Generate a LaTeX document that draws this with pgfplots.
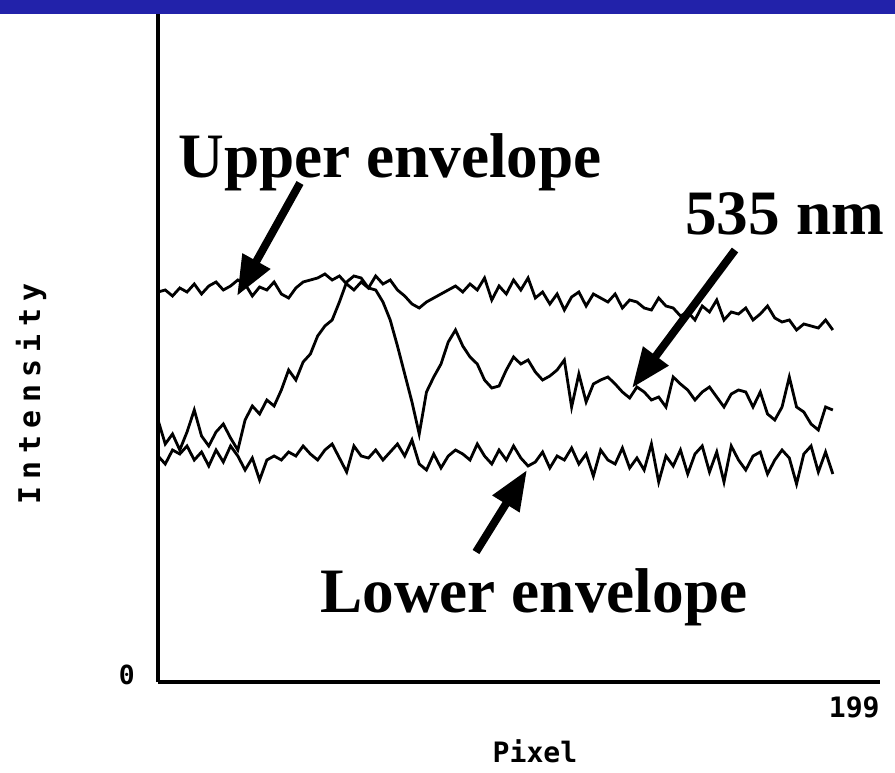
\documentclass[border=0pt]{standalone}
\usepackage{pgfplots}
\pgfplotsset{compat=1.18}
\usepackage{pgfplotstable}
\usepackage{fontspec}
\setmainfont{Liberation Serif}
\newfontfamily\monof{DejaVu Sans Mono}
\usetikzlibrary{arrows.meta}
\definecolor{barblue}{HTML}{2222AA}

% x = detector pixel, columns = intensity of the three traces
\pgfplotstableread{
x upper mid lower
0 390 262 226
2 392 238 218
4 386 248 232
6 394 232 228
8 390 250 236
10 398 272 222
12 388 246 230
14 396 236 216
16 400 250 232
18 392 258 220
20 396 244 236
22 402 232 226
24 398 262 212
26 386 276 224
28 395 268 202
30 392 282 222
32 400 276 226
34 388 292 222
36 384 312 230
38 394 302 226
40 400 320 236
42 402 328 228
44 404 346 222
46 408 356 232
48 402 362 238
50 406 380 224
52 398 400 210
54 392 406 236
56 400 404 226
58 394 394 224
60 406 392 232
62 398 380 222
64 402 362 230
66 392 336 238
68 386 308 226
70 378 280 242
72 374 248 218
74 380 290 212
76 384 305 228
78 388 318 214
80 392 340 226
82 396 352 232
84 390 336 228
86 398 325 222
88 392 318 238
90 404 302 226
92 382 294 218
94 396 296 232
96 388 312 222
98 402 325 236
100 392 318 224
102 404 322 216
104 384 310 220
106 390 302 230
108 378 306 214
110 388 312 226
112 372 322 222
114 385 275 234
116 390 308 218
118 376 280 228
120 388 298 206
122 384 302 232
124 380 305 222
126 388 298 218
128 374 290 234
130 382 284 214
132 380 295 224
134 374 290 212
136 372 282 238
138 384 285 200
140 376 275 226
142 374 305 216
144 366 298 232
146 370 292 208
148 362 282 228
150 376 290 236
152 370 295 210
154 382 285 230
156 362 275 200
158 370 288 236
160 368 292 222
162 374 290 212
164 362 275 226
166 368 290 230
168 376 268 208
170 364 262 222
172 360 275 232
174 362 305 224
176 352 275 198
178 358 270 228
180 356 258 236
182 354 252 210
184 362 275 230
186 352 272 208
}\traces

\begin{document}
\begin{tikzpicture}
\useasboundingbox (0,0) rectangle (17.9cm,15.44cm);
\fill[barblue] (0,15.16cm) rectangle (17.9cm,15.44cm);
\begin{axis}[
  at={(3.16cm,1.8cm)}, anchor=south west,
  scale only axis,
  width=14.44cm, height=13.36cm,
  xmin=0, xmax=199, ymin=0, ymax=668,
  axis x line=bottom, axis y line=left,
  axis line style={line width=2.3pt,-},
  ticks=none,
  clip=false,
]
\addplot[black, line width=1.6pt, line join=miter] table[x=x, y=upper] {\traces};
\addplot[black, line width=1.6pt, line join=miter] table[x=x, y=mid] {\traces};
\addplot[black, line width=1.6pt, line join=miter] table[x=x, y=lower] {\traces};
\end{axis}

% annotations
\node[anchor=base west, inner sep=0pt, font=\fontsize{36}{40}\selectfont\bfseries] at (3.56cm,11.88cm) {Upper envelope};
\node[anchor=base west, inner sep=0pt, font=\fontsize{36}{40}\selectfont\bfseries] at (13.7cm,10.74cm) {535 nm};
\node[anchor=base west, inner sep=0pt, font=\fontsize{36}{40}\selectfont\bfseries] at (6.4cm,3.2cm) {Lower envelope};
\draw[line width=4.5pt, -{Triangle[length=0.8cm, width=0.6cm]}] (6.0cm,11.78cm) -- (4.74cm,9.52cm);
\draw[line width=4.5pt, -{Triangle[length=0.8cm, width=0.6cm]}] (14.7cm,10.44cm) -- (12.64cm,7.68cm);
\draw[line width=4.5pt, -{Triangle[length=0.8cm, width=0.6cm]}] (9.52cm,4.4cm) -- (10.54cm,6.04cm);

% axis labels
\node[anchor=east, inner sep=0pt, font=\monof\fontsize{15}{17}\selectfont\bfseries] at (2.7cm,1.94cm) {0};
\node[anchor=east, inner sep=0pt, font=\monof\fontsize{16}{18}\selectfont\bfseries] at (17.6cm,1.3cm) {199};
\node[inner sep=0pt, font=\monof\fontsize{16}{18}\selectfont\bfseries] at (10.7cm,0.42cm) {Pixel};
\node[rotate=90, inner sep=0pt, font=\monof\fontsize{17}{19}\selectfont\bfseries\addfontfeature{LetterSpace=25}] at (0.62cm,7.56cm) {Intensity};
\end{tikzpicture}
\end{document}
